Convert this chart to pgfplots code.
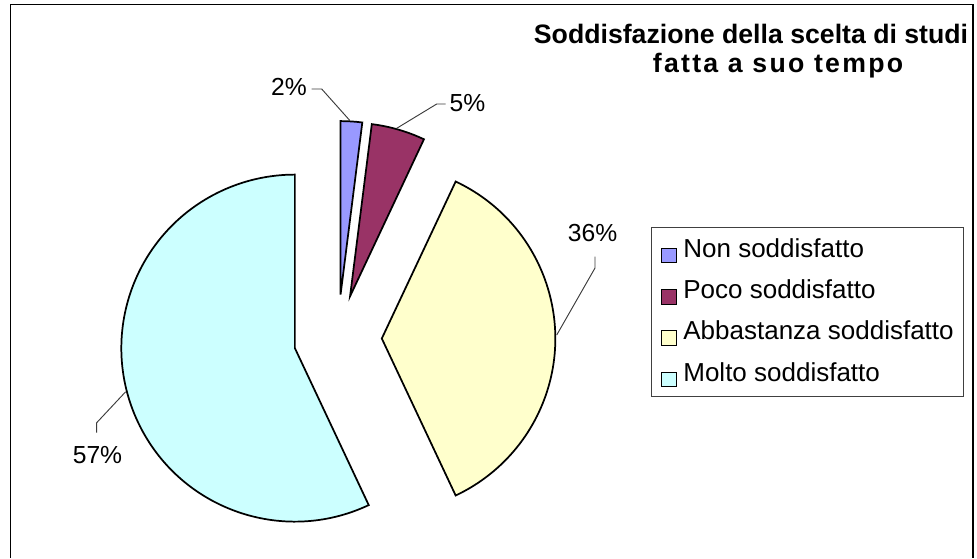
\documentclass[border=0pt]{standalone}
\usepackage{pgfplots}
\pgfplotsset{compat=1.18}
\usepackage{pgfplotstable}
\usepackage{fontspec}
\setmainfont{Liberation Sans}

\definecolor{nonc}{RGB}{153,153,255}
\definecolor{pococ}{RGB}{153,51,102}
\definecolor{abbc}{RGB}{255,255,204}
\definecolor{moltoc}{RGB}{204,255,255}
\definecolor{leadc}{RGB}{60,60,60}

% pie geometry in image pixels (y downwards)
\def\pcx{337.8}\def\pcy{338.5}\def\pexp{44}
\def\prad{130.125pt}% 173.5 px

% #1 cumulative start (percent), #2 value (percent), #3 colour
\newcommand{\pieslice}[3]{%
  \pgfmathsetmacro\thA{#1*3.6}%
  \pgfmathsetmacro\thB{(#1+#2)*3.6}%
  \pgfmathsetmacro\pmid{90-(\thA+\thB)/2}%
  \pgfmathsetmacro\pax{\pcx+\pexp*cos(\pmid)}%
  \pgfmathsetmacro\pay{\pcy-\pexp*sin(\pmid)}%
  \pgfmathsetmacro\sA{90-\thA}%
  \pgfmathsetmacro\sB{90-\thB}%
  \edef\tmp{\noexpand\filldraw[fill=#3, draw=black, line width=1.3pt, line join=miter]
    (axis cs:\pax,\pay) -- ++(\sA:\prad) arc[start angle=\sA, end angle=\sB, radius=\prad] -- cycle;}%
  \tmp
}
\tikzset{pctlabel/.style={inner sep=0pt, anchor=base, font=\fontsize{18.5}{22}\selectfont}}

\begin{document}
\begin{tikzpicture}
\begin{axis}[
  scale only axis, width=732.75pt, height=418.5pt,
  xmin=0, xmax=977, ymin=0, ymax=558, y dir=reverse,
  hide axis, clip=false,
  legend cell align=left,
  legend style={at={(axis cs:651,227)}, anchor=north west,
    draw=black!75, line width=0.75pt, inner xsep=7pt, inner ysep=1.5pt,
    font=\fontsize{19.5}{23}\selectfont, row sep=0pt,
    nodes={inner sep=0pt, text height=20.8pt, text depth=10.2pt},
    /tikz/every odd column/.append style={column sep=5pt}},
  legend image code/.code={\draw[#1, line width=0.9pt] (0pt,-9.5pt) rectangle (11pt,1.5pt);},
]
\coordinate (bbA) at (axis cs:0,0);
\coordinate (bbB) at (axis cs:977,558);
\fill[white] (axis cs:0,0) rectangle (axis cs:977,558);
% chart frame
\draw[black, line width=1.2pt] (axis cs:10.5,558) -- (axis cs:10.5,4.5) -- (axis cs:973,4.5) -- (axis cs:973,558);

% slices: Non 2, Poco 5, Abbastanza 36, Molto 57 (clockwise from 12 o'clock)
\pieslice{0}{2}{nonc}
\pieslice{2}{5}{pococ}
\pieslice{7}{36}{abbc}
\pieslice{43}{57}{moltoc}

% leader lines
\draw[leadc, line width=0.7pt] (axis cs:311.7,89) -- (axis cs:321.7,89) -- (axis cs:350,120.7);
\draw[leadc, line width=0.7pt] (axis cs:445.7,104) -- (axis cs:436.7,104) -- (axis cs:396.7,128.3);
\draw[leadc, line width=0.7pt] (axis cs:595,256.7) -- (axis cs:595,268) -- (axis cs:556.7,335);
\draw[leadc, line width=0.7pt] (axis cs:96.7,432.7) -- (axis cs:96.7,422.7) -- (axis cs:125.7,391.7);

% percentage labels
\node[pctlabel] at (axis cs:289,95) {2\%};
\node[pctlabel] at (axis cs:467.5,111.7) {5\%};
\node[pctlabel] at (axis cs:592.5,241.7) {36\%};
\node[pctlabel] at (axis cs:97.5,463) {57\%};

% title
\node[inner sep=0pt, anchor=base, font=\fontsize{20}{24}\selectfont\bfseries] at (axis cs:751,43) {Soddisfazione della scelta di studi};
\node[inner sep=0pt, anchor=base, font=\fontsize{20}{24}\selectfont\bfseries\addfontfeature{LetterSpace=8.5}] at (axis cs:778,72) {fatta a suo tempo};

\addlegendimage{fill=nonc, draw=black}
\addlegendentry{Non soddisfatto}
\addlegendimage{fill=pococ, draw=black}
\addlegendentry{Poco soddisfatto}
\addlegendimage{fill=abbc, draw=black}
\addlegendentry{Abbastanza soddisfatto}
\addlegendimage{fill=moltoc, draw=black}
\addlegendentry{Molto soddisfatto}
\end{axis}
\pgfresetboundingbox
\path[use as bounding box] (bbA) rectangle (bbB);
\end{tikzpicture}
\end{document}
